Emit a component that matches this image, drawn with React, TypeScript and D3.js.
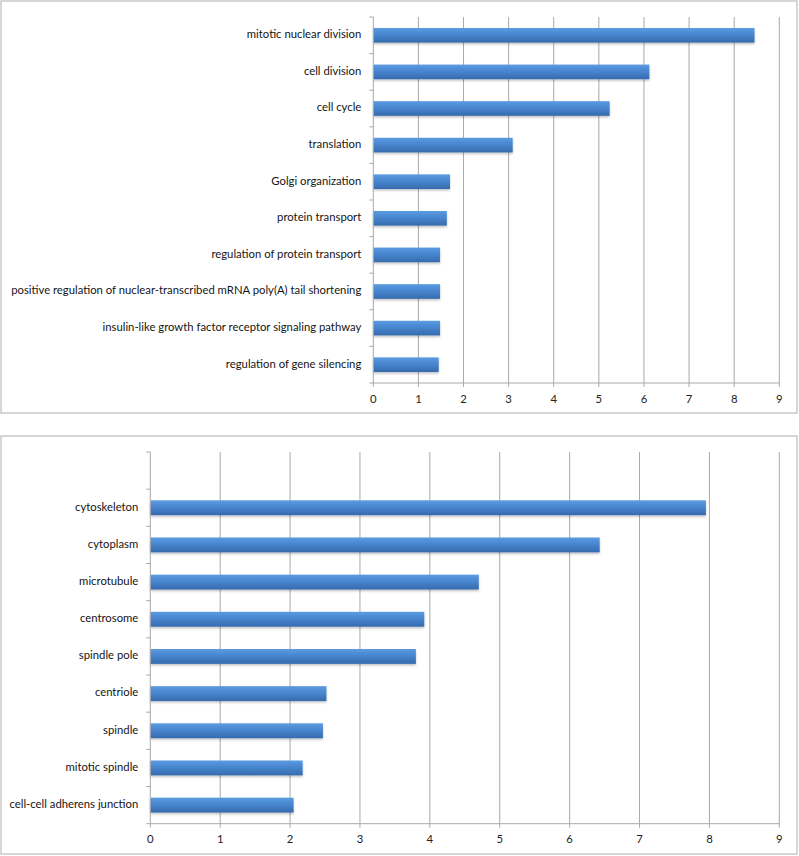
import React from "react";
import * as d3 from "d3";

const bpCategories = [
  "mitotic nuclear division",
  "cell division",
  "cell cycle",
  "translation",
  "Golgi organization",
  "protein transport",
  "regulation of protein transport",
  "positive regulation of nuclear-transcribed mRNA poly(A) tail shortening",
  "insulin-like growth factor receptor signaling pathway",
  "regulation of gene silencing",
];
const bpValues = [8.45, 6.12, 5.24, 3.09, 1.7, 1.63, 1.48, 1.48, 1.48, 1.45];

const ccCategories = [
  "",
  "cytoskeleton",
  "cytoplasm",
  "microtubule",
  "centrosome",
  "spindle pole",
  "centriole",
  "spindle",
  "mitotic spindle",
  "cell-cell adherens junction",
];
const ccValues = [null, 7.95, 6.43, 4.7, 3.92, 3.8, 2.52, 2.47, 2.18, 2.05];

const xTicks = [0, 1, 2, 3, 4, 5, 6, 7, 8, 9];

const FONT = "Lato, 'Noto Sans', sans-serif";

type PanelProps = {
  id: string;
  box: { x: number; y: number; w: number; h: number };
  x0: number;
  x1: number;
  y0: number;
  y1: number;
  categories: string[];
  values: (number | null)[];
  tickLabelY: number;
};

function Panel({ id, box, x0, x1, y0, y1, categories, values, tickLabelY }: PanelProps) {
  const x = d3.scaleLinear().domain([0, 9]).range([x0, x1]);
  const y = d3.scaleBand<string>().domain(categories.map((c, i) => i + ":" + c)).range([y0, y1]);
  const bw = y.bandwidth();
  const bh = bw * 0.4;
  const keys = y.domain();
  const boundaries = keys.map((k) => y(k) as number).concat([y1]);
  return (
    <g>
      <rect x={box.x} y={box.y} width={box.w} height={box.h} fill="#fff" stroke="#c9c9c9" strokeWidth={1.5} />
      {xTicks.slice(1).map((t) => (
        <line key={"g" + t} x1={x(t)} x2={x(t)} y1={y0} y2={y1} stroke="#a9a9a9" strokeWidth={1} />
      ))}
      {keys.map((k, i) => {
        const v = values[i];
        if (v == null) return null;
        const cy = (y(k) as number) + bw / 2;
        return (
          <rect
            key={"b" + i}
            x={x(0)}
            y={cy - bh / 2}
            width={x(v) - x(0)}
            height={bh}
            fill={`url(#grad-${id})`}
            filter={`url(#shadow-${id})`}
          />
        );
      })}
      <line x1={x0} x2={x0} y1={y0} y2={y1} stroke="#a9a9a9" strokeWidth={1} />
      <line x1={x0} x2={x1} y1={y1} y2={y1} stroke="#a9a9a9" strokeWidth={1} />
      {boundaries.map((b, i) => (
        <line key={"yt" + i} x1={x0 - 4} x2={x0} y1={b} y2={b} stroke="#a9a9a9" strokeWidth={1} />
      ))}
      {xTicks.map((t) => (
        <line key={"xt" + t} x1={x(t)} x2={x(t)} y1={y1} y2={y1 + 4} stroke="#a9a9a9" strokeWidth={1} />
      ))}
      {xTicks.map((t) => (
        <text
          key={"xl" + t}
          x={x(t)}
          y={tickLabelY}
          textAnchor="middle"
          dominantBaseline="middle"
          fontFamily={FONT}
          fontSize={11.3}
          fill="#222"
        >
          {t}
        </text>
      ))}
      {keys.map((k, i) => (
        <text
          key={"yl" + i}
          x={x0 - 12}
          y={(y(k) as number) + bw / 2}
          textAnchor="end"
          dominantBaseline="middle"
          fontFamily={FONT}
          fontSize={11.3}
          fill="#151515"
        >
          {categories[i]}
        </text>
      ))}
    </g>
  );
}

function Defs({ id }: { id: string }) {
  return (
    <defs>
      <linearGradient id={`grad-${id}`} x1="0" y1="0" x2="0" y2="1">
        <stop offset="0%" stopColor="#5b9be0" />
        <stop offset="45%" stopColor="#4886cf" />
        <stop offset="100%" stopColor="#366aad" />
      </linearGradient>
      <filter id={`shadow-${id}`} x="-5%" y="-30%" width="110%" height="180%">
        <feDropShadow dx="0" dy="1.5" stdDeviation="1" floodColor="#000" floodOpacity="0.25" />
      </filter>
    </defs>
  );
}

export default function App() {
  return (
    <svg
      width={799}
      height={856}
      style={{ position: "absolute", left: 0, top: 0, background: "#fff" }}
    >
      <Defs id="a" />
      <Defs id="b" />
      <Panel
        id="a"
        box={{ x: 1, y: 1, w: 796, h: 412 }}
        x0={373.3}
        x1={779.3}
        y0={17}
        y1={383}
        categories={bpCategories}
        values={bpValues}
        tickLabelY={400}
      />
      <Panel
        id="b"
        box={{ x: 1, y: 436, w: 796, h: 418 }}
        x0={150.3}
        x1={779.3}
        y0={452}
        y1={823.7}
        categories={ccCategories}
        values={ccValues}
        tickLabelY={840}
      />
    </svg>
  );
}
